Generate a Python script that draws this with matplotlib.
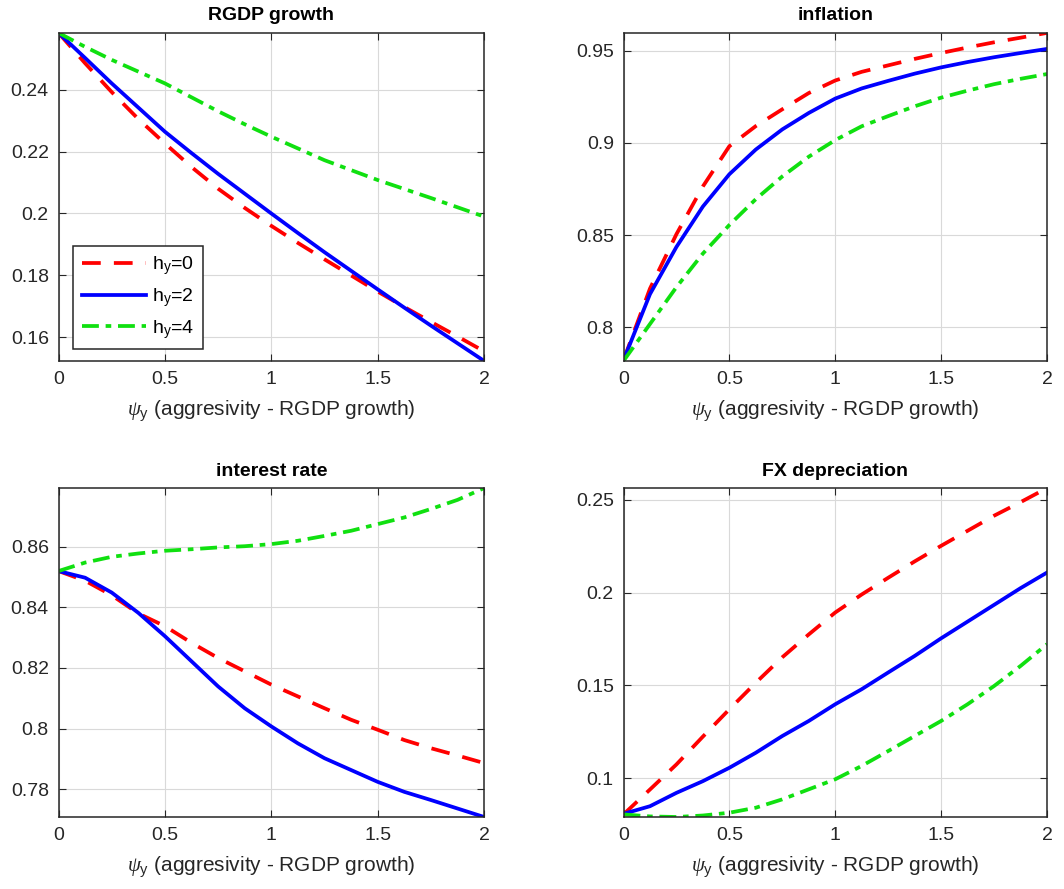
import matplotlib
matplotlib.use("Agg")
from matplotlib import pyplot as plt
import numpy as np

plt.rcParams["font.family"] = ["Liberation Sans", "DejaVu Sans"]
plt.rcParams["mathtext.fontset"] = "custom"
plt.rcParams["mathtext.rm"] = "Liberation Sans"
plt.rcParams["mathtext.it"] = "Liberation Serif:italic"

# psi_y grid
psi = [0, 0.125, 0.25, 0.375, 0.5, 0.625, 0.75, 0.875, 1,
       1.125, 1.25, 1.375, 1.5, 1.625, 1.75, 1.875, 2]

labels = ["h$_{\\mathrm{y}}$=0", "h$_{\\mathrm{y}}$=2", "h$_{\\mathrm{y}}$=4"]
titles = ["RGDP growth", "inflation", "interest rate", "FX depreciation"]

# RGDP growth
rgdp_h0 = [0.2583, 0.2485, 0.2392, 0.2305, 0.2226, 0.2150, 0.2080, 0.2018, 0.1960,
           0.1905, 0.1852, 0.1800, 0.1748, 0.1698, 0.1650, 0.1603, 0.1555]
rgdp_h2 = [0.2583, 0.2502, 0.2420, 0.2342, 0.2264, 0.2195, 0.2128, 0.2064, 0.2000,
           0.1937, 0.1875, 0.1815, 0.1755, 0.1696, 0.1638, 0.1581, 0.1524]
rgdp_h4 = [0.2583, 0.2538, 0.2496, 0.2458, 0.2420, 0.2375, 0.2330, 0.2288, 0.2248,
           0.2210, 0.2172, 0.2140, 0.2108, 0.2079, 0.2050, 0.2020, 0.1990]

# inflation
infl_h0 = [0.7822, 0.8210, 0.8505, 0.8764, 0.8982, 0.9091, 0.9182, 0.9270, 0.9338,
           0.9385, 0.9420, 0.9455, 0.9487, 0.9517, 0.9545, 0.9570, 0.9596]
infl_h2 = [0.7822, 0.8180, 0.8436, 0.8655, 0.8830, 0.8964, 0.9073, 0.9162, 0.9240,
           0.9295, 0.9336, 0.9375, 0.9409, 0.9438, 0.9464, 0.9487, 0.9509]
infl_h4 = [0.7818, 0.8018, 0.8218, 0.8400, 0.8555, 0.8695, 0.8818, 0.8925, 0.9015,
           0.9090, 0.9145, 0.9198, 0.9245, 0.9283, 0.9318, 0.9347, 0.9373]

# interest rate
rate_h0 = [0.8520, 0.8488, 0.8440, 0.8380, 0.8338, 0.8283, 0.8233, 0.8189, 0.8145,
           0.8106, 0.8067, 0.8029, 0.7996, 0.7962, 0.7935, 0.7911, 0.7886]
rate_h2 = [0.8520, 0.8498, 0.8449, 0.8382, 0.8305, 0.8222, 0.8139, 0.8067, 0.8007,
           0.7951, 0.7902, 0.7863, 0.7824, 0.7791, 0.7764, 0.7736, 0.7708]
rate_h4 = [0.8520, 0.8548, 0.8567, 0.8578, 0.8587, 0.8592, 0.8598, 0.8602, 0.8609,
           0.8620, 0.8636, 0.8653, 0.8675, 0.8697, 0.8725, 0.8755, 0.8794]

# FX depreciation
fx_h0 = [0.0806, 0.0940, 0.1075, 0.1225, 0.1372, 0.1515, 0.1652, 0.1775, 0.1893,
         0.1990, 0.2080, 0.2168, 0.2252, 0.2333, 0.2414, 0.2487, 0.2563]
fx_h2 = [0.0809, 0.0850, 0.0922, 0.0985, 0.1057, 0.1138, 0.1228, 0.1309, 0.1399,
         0.1480, 0.1570, 0.1659, 0.1754, 0.1844, 0.1934, 0.2024, 0.2108]
fx_h4 = [0.0806, 0.0795, 0.0792, 0.0800, 0.0815, 0.0842, 0.0887, 0.0941, 0.0995,
         0.1067, 0.1147, 0.1228, 0.1309, 0.1399, 0.1497, 0.1605, 0.1722]

series = [
    (rgdp_h0, rgdp_h2, rgdp_h4),
    (infl_h0, infl_h2, infl_h4),
    (rate_h0, rate_h2, rate_h4),
    (fx_h0, fx_h2, fx_h4),
]
yticks = [
    [0.16, 0.18, 0.2, 0.22, 0.24],
    [0.8, 0.85, 0.9, 0.95],
    [0.78, 0.8, 0.82, 0.84, 0.86],
    [0.1, 0.15, 0.2, 0.25],
]

styles = [
    dict(color="#ff0000", linestyle=(0, (5, 3.5)), linewidth=2.7),
    dict(color="#0000ff", linestyle="-", linewidth=2.7),
    dict(color="#10e010", linestyle=(0, (4.5, 1.8, 1.5, 1.8)), linewidth=2.7),
]

# axes rectangles in figure fractions [left, bottom, width, height]
rects = [
    [0.055, 0.594, 0.400, 0.369],
    [0.586, 0.594, 0.398, 0.369],
    [0.055, 0.081, 0.400, 0.370],
    [0.586, 0.081, 0.398, 0.370],
]

fig = plt.figure(figsize=(10.64, 8.89), dpi=100)
dark = "#262626"

for i in range(4):
    ax = fig.add_axes(rects[i])
    for data, st, lab in zip(series[i], styles, labels):
        ax.plot(psi, data, label=lab, **st)
    allv = np.concatenate([np.array(d) for d in series[i]])
    ax.set_xlim(0, 2)
    ax.set_ylim(allv.min(), allv.max())
    ax.set_xticks([0, 0.5, 1, 1.5, 2])
    ax.set_xticklabels(["0", "0.5", "1", "1.5", "2"])
    ax.set_yticks(yticks[i])
    ax.set_yticklabels([("%g" % t) for t in yticks[i]])
    ax.grid(True, color="#d9d9d9", linewidth=0.8)
    ax.set_axisbelow(True)
    ax.tick_params(direction="in", top=True, right=True, length=5,
                   labelsize=14, colors=dark, pad=7)
    for sp in ax.spines.values():
        sp.set_color(dark)
        sp.set_linewidth(1.1)
    ax.set_title(titles[i], fontsize=14, fontweight="bold", pad=9)
    ax.set_xlabel("$\\mathit{\\psi}_{\\mathrm{y}}$ (aggresivity - RGDP growth)",
                  fontsize=15, color=dark, labelpad=8)
    if i == 0:
        leg = ax.legend(loc="lower left", bbox_to_anchor=(0.035, 0.035),
                        fontsize=14, handlelength=3.3, handletextpad=0.3,
                        borderpad=0.45, labelspacing=0.45, fancybox=False,
                        framealpha=1, edgecolor=dark, borderaxespad=0)
        leg.get_frame().set_linewidth(1.1)

fig.savefig("out.png", dpi=100)
